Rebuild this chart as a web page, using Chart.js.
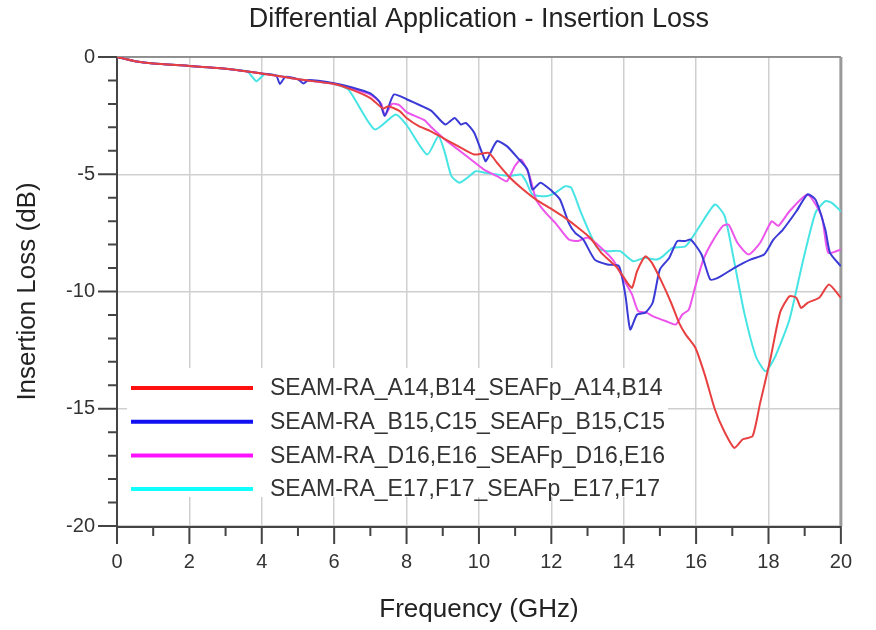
<!DOCTYPE html>
<html>
<head>
<meta charset="utf-8">
<script src="https://cdn.jsdelivr.net/npm/chart.js@4.4.0/dist/chart.umd.min.js"></script>
<style>
  body { margin: 0; background: #fff; }
  canvas { display: block; }
</style>
</head>
<body>
<canvas id="myChart" width="876" height="630"></canvas>
<script>
const titleText = 'Differential Application - Insertion Loss';
const seriesNames = [
  'SEAM-RA_A14,B14_SEAFp_A14,B14',
  'SEAM-RA_B15,C15_SEAFp_B15,C15',
  'SEAM-RA_D16,E16_SEAFp_D16,E16',
  'SEAM-RA_E17,F17_SEAFp_E17,F17'
];
const lineColors = ['rgb(232,64,64)', 'rgb(58,58,215)', 'rgb(236,84,236)', 'rgb(70,228,228)'];
const legendColors = ['#ff1010', '#1010f0', '#ff10ff', '#10ffff'];

// red : A14,B14
const freqRed = [0, 0.5, 1, 2, 3, 4, 5, 6, 6.5, 7, 7.35, 7.5, 7.8, 8, 8.34, 8.66, 9.06, 9.42, 9.87, 10.27, 10.5, 10.86, 11.22, 11.58, 12.02, 12.38, 12.74, 13.1, 13.38, 13.82, 14.1, 14.23, 14.37, 14.6, 14.78, 15.04, 15.31, 15.53, 15.71, 15.98, 16.25, 16.52, 16.79, 17.06, 17.29, 17.56, 17.77, 18.05, 18.32, 18.58, 18.77, 18.9, 19.08, 19.4, 19.67, 20];
const lossRed = [0, -0.18, -0.28, -0.38, -0.5, -0.7, -0.95, -1.15, -1.4, -1.75, -2.2, -2.1, -2.3, -2.6, -2.95, -3.16, -3.5, -3.8, -4.16, -4.09, -4.51, -5.15, -5.65, -6.08, -6.5, -6.86, -7.28, -7.75, -8.35, -8.99, -9.63, -9.84, -9.13, -8.5, -8.78, -9.56, -10.48, -11.34, -11.83, -12.4, -13.6, -15.03, -16.0, -16.67, -16.3, -16.17, -14.75, -12.9, -10.9, -10.2, -10.27, -10.7, -10.48, -10.27, -9.7, -10.27];

// blue : B15,C15
const freqBlue = [0, 0.5, 1, 2, 3, 4, 4.4, 4.5, 4.65, 5, 5.15, 5.3, 6, 6.5, 7, 7.25, 7.4, 7.65, 8, 8.5, 8.7, 9.07, 9.33, 9.5, 9.64, 9.87, 10.18, 10.27, 10.5, 10.77, 11.07, 11.34, 11.48, 11.7, 12.02, 12.24, 12.48, 12.66, 12.88, 13.2, 13.55, 13.87, 14.05, 14.18, 14.37, 14.6, 14.8, 15, 15.26, 15.48, 15.7, 15.85, 16.15, 16.39, 16.6, 17.06, 17.5, 17.88, 18.14, 18.4, 18.77, 19.08, 19.3, 19.57, 19.7, 20];
const lossBlue = [0, -0.18, -0.28, -0.38, -0.5, -0.7, -0.8, -1.15, -0.85, -0.95, -1.13, -0.98, -1.12, -1.3, -1.55, -1.9, -2.5, -1.6, -1.8, -2.15, -2.31, -2.88, -2.6, -2.88, -2.81, -3.23, -4.44, -4.23, -3.59, -3.8, -4.3, -4.8, -5.65, -5.36, -5.72, -6.08, -7.07, -7.5, -7.78, -8.64, -8.85, -8.92, -10.2, -11.62, -10.98, -10.9, -10.48, -9.06, -8.56, -7.85, -7.85, -7.78, -8.42, -9.49, -9.42, -8.99, -8.64, -8.42, -7.78, -7.36, -6.58, -5.86, -6.08, -7.36, -8.35, -8.92];

// magenta : D16,E16
const freqMagenta = [0, 0.5, 1, 2, 3, 4, 5, 6, 6.5, 7, 7.3, 7.4, 7.6, 7.8, 8, 8.5, 8.7, 9.06, 9.42, 9.78, 10.14, 10.5, 10.77, 10.99, 11.17, 11.4, 11.58, 11.84, 12.11, 12.48, 12.74, 13, 13.38, 13.73, 14, 14.23, 14.4, 14.63, 14.8, 15.17, 15.44, 15.62, 15.8, 15.98, 16.2, 16.43, 16.74, 16.9, 17.14, 17.45, 17.77, 18.09, 18.27, 18.58, 19.08, 19.47, 19.65, 20];
const lossMagenta = [0, -0.18, -0.28, -0.38, -0.5, -0.7, -0.95, -1.15, -1.35, -1.6, -2.0, -2.5, -2.0, -2.05, -2.35, -2.7, -3.02, -3.52, -3.94, -4.37, -4.8, -5.08, -5.3, -4.66, -4.37, -5.08, -6.08, -6.64, -7.07, -7.78, -7.85, -7.7, -8.14, -8.71, -9.49, -10.13, -10.84, -10.9, -11.05, -11.27, -11.41, -10.98, -10.77, -9.77, -8.64, -7.92, -7.2, -7.15, -7.92, -8.42, -7.92, -7.0, -7.2, -6.58, -5.86, -6.79, -8.35, -8.21];

// cyan : E17,F17
const freqCyan = [0, 0.5, 1, 2, 3, 3.6, 3.85, 4.1, 5, 6, 6.4, 7.12, 7.7, 8, 8.57, 8.88, 9.06, 9.24, 9.46, 9.68, 9.91, 10.18, 10.5, 10.86, 11.16, 11.3, 11.48, 11.84, 12.11, 12.38, 12.55, 12.82, 13.1, 13.27, 13.55, 13.9, 14.26, 14.58, 14.9, 15.08, 15.35, 15.71, 16.07, 16.52, 16.79, 17.06, 17.33, 17.65, 17.92, 18.19, 18.58, 18.94, 19.3, 19.57, 19.75, 20];
const lossCyan = [0, -0.18, -0.28, -0.38, -0.5, -0.62, -1.03, -0.72, -0.95, -1.15, -1.4, -3.09, -2.45, -2.9, -4.16, -3.38, -4.09, -5.08, -5.36, -5.15, -4.87, -4.94, -5.01, -5.08, -5.01, -5.3, -5.86, -5.94, -5.79, -5.51, -5.58, -6.64, -7.64, -8.14, -8.28, -8.28, -8.71, -8.56, -8.64, -8.5, -8.14, -8.07, -7.28, -6.29, -6.79, -8.78, -10.9, -12.76, -13.4, -12.76, -11.19, -8.78, -6.64, -6.15, -6.22, -6.58];

const freqs = [freqRed, freqBlue, freqMagenta, freqCyan];
const losses = [lossRed, lossBlue, lossMagenta, lossCyan];

const fontFamily = '"Liberation Sans", Arial, sans-serif';

// axes frame, minor ticks, legend box and title
const framePlugin = {
  id: 'frame',
  beforeDatasetsDraw(chart) {
    const ctx = chart.ctx;
    const a = chart.chartArea;
    const xs = chart.scales.x, ys = chart.scales.y;
    ctx.save();
    // legend background
    ctx.fillStyle = '#fff';
    ctx.fillRect(a.left + 10, a.top + 311, 541, 129);

    // top and right border
    ctx.strokeStyle = '#777';
    ctx.lineWidth = 1.5;
    ctx.beginPath();
    ctx.moveTo(a.left, a.top); ctx.lineTo(a.right, a.top);
    ctx.stroke();
    ctx.strokeStyle = '#999';
    ctx.lineWidth = 3;
    ctx.beginPath();
    ctx.moveTo(a.right, a.top); ctx.lineTo(a.right, a.bottom);
    ctx.stroke();

    // x ticks
    ctx.strokeStyle = '#444';
    ctx.lineWidth = 2;
    ctx.beginPath();
    for (let f = 0; f <= 20; f++) {
      const px = xs.getPixelForValue(f);
      ctx.moveTo(px, a.bottom);
      ctx.lineTo(px, a.bottom + (f % 2 === 0 ? 18 : 10));
    }
    // y ticks
    for (let v = 0; v >= -20; v--) {
      const py = ys.getPixelForValue(v);
      ctx.moveTo(a.left, py);
      ctx.lineTo(a.left - (v % 5 === 0 ? 19 : 9), py);
    }
    ctx.stroke();
    // axis lines
    ctx.beginPath();
    ctx.moveTo(a.left, a.top); ctx.lineTo(a.left, a.bottom + 1);
    ctx.lineTo(a.right, a.bottom + 1);
    ctx.stroke();

    // legend
    ctx.font = '23px ' + fontFamily;
    ctx.textBaseline = 'middle';
    ctx.textAlign = 'left';
    seriesNames.forEach((name, i) => {
      const ly = a.top + 331 + i * 33.7;
      ctx.strokeStyle = legendColors[i];
      ctx.lineWidth = 4;
      ctx.beginPath();
      ctx.moveTo(a.left + 14, ly); ctx.lineTo(a.left + 136, ly);
      ctx.stroke();
      ctx.fillStyle = '#333';
      ctx.fillText(name, a.left + 153, ly + 1);
    });
    ctx.restore();
  },
  afterDraw(chart) {
    const ctx = chart.ctx;
    const a = chart.chartArea;
    ctx.save();
    ctx.font = '27px ' + fontFamily;
    ctx.fillStyle = '#222';
    ctx.textAlign = 'center';
    ctx.textBaseline = 'middle';
    ctx.fillText(titleText, (a.left + a.right) / 2, 20);
    ctx.restore();
  }
};

var ctx = document.getElementById('myChart').getContext('2d');
var myChart = new Chart(ctx, {
  type: 'line',
  data: {
    datasets: seriesNames.map((name, i) => ({
      label: name,
      data: freqs[i].map((f, j) => ({x: f, y: losses[i][j]})),
      borderColor: lineColors[i],
      backgroundColor: lineColors[i],
      borderWidth: 2,
      pointRadius: 0,
      tension: 0.2,
      fill: false
    }))
  },
  options: {
    responsive: false,
    animation: false,
    layout: {
      autoPadding: false,
      padding: {top: 57, right: 17, bottom: 0, left: 0}
    },
    plugins: {
      legend: {display: false},
      title: {display: false},
      tooltip: {enabled: false}
    },
    scales: {
      x: {
        type: 'linear',
        min: 0,
        max: 20,
        afterFit: (scale) => { scale.height = 104; },
        ticks: {
          stepSize: 2,
          padding: 24,
          color: '#333',
          font: {family: fontFamily, size: 20}
        },
        grid: {color: '#cfcfcf', lineWidth: 1.5, drawTicks: false},
        border: {display: false},
        title: {
          display: true,
          text: 'Frequency (GHz)',
          color: '#222',
          font: {family: fontFamily, size: 26},
          padding: {top: 0, bottom: 5}
        }
      },
      y: {
        min: -20,
        max: 0,
        afterFit: (scale) => { scale.width = 117; },
        ticks: {
          stepSize: 5,
          padding: 22,
          color: '#333',
          font: {family: fontFamily, size: 20}
        },
        grid: {color: '#cfcfcf', lineWidth: 1.5, drawTicks: false},
        border: {display: false},
        title: {
          display: true,
          text: 'Insertion Loss (dB)',
          color: '#222',
          font: {family: fontFamily, size: 26},
          padding: {top: 12, bottom: 0}
        }
      }
    }
  },
  plugins: [framePlugin]
});
</script>
</body>
</html>
